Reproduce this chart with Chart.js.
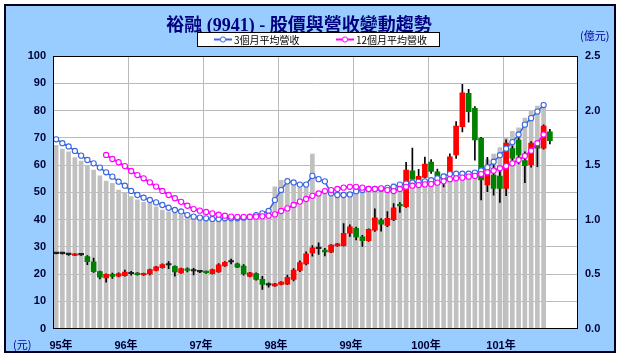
<!DOCTYPE html>
<html><head><meta charset="utf-8">
<script src="https://cdn.jsdelivr.net/npm/chart.js@4/dist/chart.umd.min.js"></script>
<style>
html,body{margin:0;padding:0;background:#fff;}
#wrap{position:relative;width:621px;height:357px;overflow:hidden;}
#frame{position:absolute;left:4px;top:4px;width:608px;height:345px;background:#99CCFF;border:2px solid #000022;}
canvas{position:absolute;left:0;top:0;}
.t{position:absolute;white-space:nowrap;line-height:1;}
#title{left:0;width:598px;top:10px;text-align:center;font:bold 18px "Liberation Serif","Noto Sans CJK TC",serif;color:#000080;}
#legend{left:197px;top:32px;width:241px;height:13px;background:#fff;border:1px solid #000;}
.li{position:absolute;top:0;height:13px;font:10px "Noto Sans CJK TC",sans-serif;color:#000;line-height:13px;}
.li svg{position:absolute;left:0;top:2px;}
.li span{position:absolute;left:20px;top:0;}
#unitR{left:580px;top:27px;font:11px "Noto Sans CJK TC",sans-serif;color:#000099;}
#unitL{left:13px;top:336px;font:11px "Noto Sans CJK TC",sans-serif;color:#000099;}
</style></head>
<body>
<div id="wrap">
<div id="frame"></div>
<canvas id="c" width="621" height="357"></canvas>
<div class="t" id="title">裕融 (9941) - 股價與營收變動趨勢</div>
<div class="t" id="legend">
  <div class="li" style="left:16px;width:100px"><svg width="18" height="9"><line x1="0" y1="4.5" x2="18" y2="4.5" stroke="#3B66E0" stroke-width="2"/><circle cx="9" cy="4.5" r="2.6" fill="#fff" stroke="#3B66E0" stroke-width="1"/></svg><span>3個月平均營收</span></div>
  <div class="li" style="left:138px;width:100px"><svg width="18" height="9"><line x1="0" y1="4.5" x2="18" y2="4.5" stroke="#FF00FF" stroke-width="2"/><circle cx="9" cy="4.5" r="2.6" fill="#fff" stroke="#FF00FF" stroke-width="1"/></svg><span>12個月平均營收</span></div>
</div>
<div class="t" id="unitR">(億元)</div>
<div class="t" id="unitL">(元)</div>
</div>
<script>
// ---- data ----
const yearLabels = ['95年','96年','97年','98年','99年','100年','101年'];
const categories = [];
for (const y of [95,96,97,98,99,100,101]) for (let m = 1; m <= 12; m++) categories.push(y + '/' + String(m).padStart(2,'0'));

// monthly revenue (億元), index 0 = 95/01
const revenue = [1.68,1.645,1.62,1.567,1.537,1.49,1.454,1.40,1.353,1.332,1.27,1.25,1.21,1.18,1.158,1.149,1.117,1.087,1.07,1.057,
 1.04,1.03,1.01,1.00,0.99,1.00,0.98,0.99,1.00,0.99,1.01,1.00,1.02,1.04,1.06,1.30,1.36,1.38,1.36,1.29,
 1.31,1.60,1.22,1.25,1.24,1.20,1.22,1.25,1.30,1.26,1.27,1.30,1.27,1.28,1.33,1.29,1.34,1.36,1.32,1.36,
 1.37,1.38,1.42,1.44,1.40,1.42,1.43,1.44,1.48,1.55,1.60,1.66,1.75,1.81,1.84,1.93,2.00,2.04,2.07];

// 3-month average revenue (億元)
const avg3 = [1.736,1.70,1.67,1.629,1.586,1.546,1.515,1.476,1.433,1.393,1.347,1.31,1.262,1.225,1.20,1.179,1.157,1.133,1.108,1.087,
 1.074,1.041,1.026,1.017,1.011,1.005,1.005,1.011,1.011,1.011,1.017,1.026,1.041,1.056,1.078,1.178,1.27,1.35,1.34,1.32,
 1.32,1.40,1.37,1.35,1.24,1.225,1.225,1.23,1.26,1.27,1.28,1.28,1.28,1.29,1.30,1.32,1.33,1.34,1.346,1.35,
 1.36,1.377,1.395,1.417,1.42,1.42,1.42,1.43,1.45,1.478,1.53,1.59,1.65,1.71,1.78,1.87,1.93,1.99,2.05];

// 12-month average revenue (億元)
const avg12 = [null,null,null,null,null,null,null,null,1.592,1.555,1.525,1.49,1.445,1.408,1.378,1.341,1.302,1.262,1.225,1.195,
 1.162,1.126,1.096,1.081,1.069,1.056,1.044,1.035,1.026,1.024,1.024,1.024,1.026,1.029,1.035,1.047,1.078,1.102,1.133,1.164,
 1.188,1.217,1.239,1.261,1.27,1.28,1.292,1.30,1.30,1.292,1.28,1.28,1.286,1.27,1.261,1.28,1.30,1.31,1.316,1.322,
 1.325,1.338,1.35,1.37,1.378,1.384,1.393,1.40,1.417,1.433,1.448,1.47,1.49,1.515,1.546,1.583,1.63,1.70,1.78];

// monthly stock price candles (元)
const opens  = [27.7,27.5,27.2,26.8,27.0,26.4,24.5,20.9,18.6,19.9,19.2,19.4,20.3,20.3,19.7,20.0,21.3,22.3,23.5,22.8,
 20.4,21.9,21.3,21.0,20.9,20.1,20.8,23.0,24.6,23.7,22.9,19.1,20.2,18.0,16.0,15.6,16.2,16.3,18.0,21.3,
 23.7,27.7,29.5,28.8,28.0,30.3,30.4,35.0,36.8,33.6,32.2,36.1,39.8,37.8,39.9,45.4,44.7,57.9,54.6,55.4,
 61.1,57.5,55.5,57.2,63.7,74.1,86.3,80.8,69.8,52.7,56.3,55.9,51.4,66.0,69.1,61.6,60.0,67.4,66.2,72.2];
const highs  = [27.9,27.8,27.6,27.5,27.4,26.8,25.8,21.1,20.1,20.3,20.4,21.4,21.0,20.5,20.3,21.8,22.8,23.7,24.6,23.0,
 22.2,22.3,22.1,21.3,21.1,21.8,23.8,24.6,25.5,24.0,23.5,20.6,20.4,19.1,16.8,16.6,17.2,19.6,22.0,24.8,
 28.1,30.4,31.4,29.4,30.8,31.3,38.5,38.0,37.2,34.2,36.6,43.9,40.3,42.9,45.8,46.2,61.0,66.2,58.4,62.9,
 62.0,58.5,56.5,64.1,75.9,89.6,87.8,81.4,70.2,62.8,61.4,58.6,69.2,67.0,71.0,64.8,68.6,67.4,74.7,73.1];
const lows   = [27.4,27.3,26.8,26.7,26.8,23.4,20.6,18.2,17.0,18.4,18.9,19.2,19.6,19.6,19.5,19.7,21.1,22.1,22.0,19.2,
 20.2,20.8,19.7,20.5,20.2,19.9,20.6,22.8,23.7,22.3,19.6,18.9,17.7,14.3,15.2,15.4,16.0,16.1,17.5,20.9,
 23.3,26.5,27.2,26.6,27.8,30.1,30.2,33.8,32.5,30.1,32.0,35.6,35.7,37.4,39.6,42.6,44.4,54.4,54.4,55.2,
 56.9,54.8,52.0,56.5,62.4,72.1,75.7,61.8,47.2,50.2,48.9,46.3,48.7,61.5,60.4,53.5,59.2,59.4,65.8,67.7];
const closes = [27.5,27.6,27.1,27.4,27.0,24.5,20.9,18.8,19.9,19.1,20.2,20.7,20.1,19.8,20.1,21.6,22.6,23.5,23.3,20.8,
 22.0,21.3,21.1,20.8,20.5,21.6,23.4,24.3,24.4,22.5,20.0,20.4,18.0,16.2,15.9,16.4,17.0,18.8,21.4,24.2,
 27.4,29.6,29.3,28.1,30.6,31.1,34.9,37.3,33.6,32.2,36.4,40.6,38.3,40.4,44.3,45.0,58.1,54.8,55.8,60.3,
 57.6,56.0,54.5,63.0,74.3,86.5,79.6,69.2,54.5,59.1,51.4,51.4,68.0,62.5,63.7,59.8,68.0,66.2,74.3,68.9];

// ---- build ----
const bodies = opens.map((o,i)=>[Math.min(o,closes[i]), Math.max(o,closes[i])]);
const wicks = lows.map((l,i)=>[l, highs[i]]);
const bodyColors = opens.map((o,i)=> closes[i] > o + 0.25 ? '#FF0000' : (closes[i] < o - 0.25 ? '#008000' : '#202020'));

const BLUE='#3B66E0', MAG='#FF00FF';
const NAVY='#000033';
const tickFont = {family:'"Liberation Sans", Arial, sans-serif', size:11, weight:'bold'};

const framePlugin = {
  id:'framePlugin',
  beforeDraw(chart){
    const a = chart.chartArea, c = chart.ctx;
    c.save(); c.fillStyle='#fff'; c.fillRect(a.left,a.top,a.right-a.left,a.bottom-a.top); c.restore();
  },
  afterDraw(chart){
    const a = chart.chartArea, c = chart.ctx;
    c.save();
    c.strokeStyle='#000'; c.lineWidth=1;
    c.strokeRect(Math.round(a.left)+0.5, Math.round(a.top)+0.5, Math.round(a.right-a.left)-1, Math.round(a.bottom-a.top)-1);
    const xs = chart.scales.x;
    c.font = 'bold 11px "Liberation Sans", Arial, "Noto Sans CJK TC", sans-serif';
    c.fillStyle = NAVY; c.textAlign='center'; c.textBaseline='middle';
    yearLabels.forEach((lab,k)=>{
      const idx = k*12;
      let x;
      if (k===0) x = a.left + 8;
      else x = (xs.getPixelForValue(idx) + xs.getPixelForValue(idx-1))/2 - 2;
      c.fillText(lab, x, 346);
    });
    c.restore();
  }
};

new Chart(document.getElementById('c'), {
  data:{
    labels: categories,
    datasets:[
      {type:'line', label:'12個月平均營收', data:avg12, yAxisID:'y2', order:1,
        borderColor:MAG, borderWidth:2, pointRadius:2.6, pointBorderWidth:1.1, pointBackgroundColor:'#fff', pointBorderColor:MAG, tension:0},
      {type:'line', label:'3個月平均營收', data:avg3, yAxisID:'y2', order:2,
        borderColor:BLUE, borderWidth:1.6, pointRadius:2.6, pointBorderWidth:1.1, pointBackgroundColor:'#fff', pointBorderColor:BLUE, tension:0},
      {type:'bar', label:'body', data:bodies, yAxisID:'y', order:3, backgroundColor:bodyColors,
        barThickness:5, grouped:false, minBarLength:1.5},
      {type:'bar', label:'wick', data:wicks, yAxisID:'y', order:4, backgroundColor:'#000',
        barThickness:1, grouped:false},
      {type:'bar', label:'revenue', data:revenue, yAxisID:'y2', order:5, backgroundColor:'#C0C0C0',
        barThickness:4, grouped:false}
    ]
  },
  options:{
    responsive:false, animation:false, devicePixelRatio:1,
    layout:{padding:{top:56,left:0,right:0,bottom:0}},
    plugins:{legend:{display:false}, tooltip:{enabled:false}, title:{display:false}},
    scales:{
      x:{type:'category', offset:true,
        grid:{offset:true, drawTicks:false, color:(ctx)=> (ctx.index>0 && ctx.index%12===0) ? '#BBBBBB' : 'rgba(0,0,0,0)', lineWidth:1},
        border:{display:false},
        ticks:{display:false},
        afterFit(s){ s.height = 28.5; }
      },
      y:{position:'left', min:0, max:100,
        ticks:{stepSize:10, color:NAVY, font:tickFont, padding:7},
        grid:{color:'#BBBBBB', drawTicks:false},
        border:{display:false},
        afterFit(s){ s.width = 53; }
      },
      y2:{position:'right', min:0, max:2.5,
        ticks:{stepSize:0.5, color:NAVY, font:tickFont, padding:7, callback:(v)=>Number(v).toFixed(1)},
        grid:{display:false, drawTicks:false},
        border:{display:false},
        afterFit(s){ s.width = 43; }
      }
    }
  },
  plugins:[framePlugin]
});
</script>
</body></html>
